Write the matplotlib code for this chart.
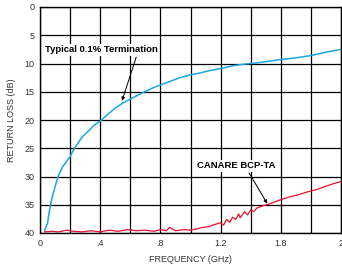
import matplotlib
matplotlib.use("Agg")
import matplotlib.pyplot as plt

plt.rcParams["font.family"] = ["Liberation Sans", "DejaVu Sans"]

# typical 0.1% termination (blue)
term_freq = [0.03, 0.04, 0.05, 0.06, 0.07, 0.08, 0.10, 0.12, 0.13, 0.15, 0.18, 0.20, 0.22, 0.25,
             0.28, 0.32, 0.36, 0.40, 0.45, 0.50, 0.55, 0.60, 0.68, 0.76, 0.84, 0.92, 1.00,
             1.06, 1.12, 1.20, 1.28, 1.36, 1.44, 1.52, 1.60, 1.70, 1.80, 1.90, 2.00]
term_loss = [39.6, 38.9, 38.3, 36.5, 35.0, 33.8, 31.8, 30.0, 29.4, 28.3, 27.2, 26.5, 25.4, 24.2,
             23.0, 22.0, 20.9, 20.2, 19.0, 17.9, 17.0, 16.3, 15.2, 14.2, 13.4, 12.6, 12.0,
             11.7, 11.3, 10.9, 10.4, 10.1, 9.9, 9.6, 9.3, 9.0, 8.6, 8.0, 7.5]

# CANARE BCP-TA (red)
canare_freq = [0.03, 0.08, 0.12, 0.18, 0.22, 0.28, 0.34, 0.40, 0.46, 0.52, 0.58, 0.64, 0.70,
               0.76, 0.80, 0.84, 0.86, 0.90, 0.96, 1.00, 1.04, 1.08, 1.12, 1.16, 1.20, 1.22,
               1.24, 1.26, 1.28, 1.30, 1.32, 1.33, 1.36, 1.38, 1.40, 1.42, 1.44, 1.48, 1.52,
               1.56, 1.60, 1.66, 1.72, 1.78, 1.84, 1.90, 1.96, 2.00]
canare_loss = [39.8, 39.7, 39.8, 39.5, 39.7, 39.8, 39.6, 39.8, 39.5, 39.7, 39.4, 39.6, 39.5,
               39.7, 39.4, 39.6, 39.0, 39.6, 39.4, 39.5, 39.3, 39.0, 38.9, 38.5, 38.2, 38.6,
               37.6, 38.1, 37.2, 37.6, 36.6, 37.3, 36.2, 36.8, 35.9, 36.2, 35.6, 35.2, 34.9,
               34.5, 34.1, 33.6, 33.2, 32.7, 32.3, 31.7, 31.2, 30.9]

x_ticks = [i * 0.2 for i in range(11)]
x_labels = ["0", "", ".4", "", ".8", "", "1.2", "", "1.8", "", "2"]
y_ticks = [0, 5, 10, 15, 20, 25, 30, 35, 40]

fig = plt.figure(figsize=(3.42, 2.66), dpi=100)
ax = fig.add_axes([40 / 342, 33 / 266, 301 / 342, 226 / 266])

ax.plot(term_freq, term_loss, color="#1aa6e0", lw=1.1)
ax.plot(canare_freq, canare_loss, color="#e5122f", lw=0.9)

ax.set_xlim(0, 2)
ax.set_ylim(40, 0)
ax.set_xticks(x_ticks)
ax.set_xticklabels(x_labels)
ax.set_yticks(y_ticks)
ax.grid(True, color="black", lw=0.9)
ax.tick_params(length=0, labelsize=6.5, colors="#333333", pad=4)
for s in ax.spines.values():
    s.set_linewidth(1.0)

ax.set_xlabel("FREQUENCY (GHz)", fontsize=6.5, color="#333333", labelpad=5)
ax.set_ylabel("RETURN LOSS (dB)", fontsize=6.5, color="#333333", labelpad=6)

box = dict(boxstyle="square,pad=0.15", fc="white", ec="none")
ax.annotate("Typical 0.1% Termination", xy=(0.545, 16.6), xytext=(0.03, 7.6),
            fontsize=6.8, fontweight="bold", bbox=box, va="center", ha="left",
            arrowprops=dict(arrowstyle="-|>", color="black", lw=0.7, mutation_scale=5,
                            relpos=(0.82, 0.0), shrinkA=1, shrinkB=0))
ax.annotate("CANARE BCP-TA", xy=(1.51, 34.8), xytext=(1.04, 28.1),
            fontsize=6.8, fontweight="bold", bbox=box, va="center", ha="left",
            arrowprops=dict(arrowstyle="-|>", color="black", lw=0.7, mutation_scale=5,
                            relpos=(0.65, 0.0), shrinkA=1, shrinkB=0))

fig.savefig("out.png", dpi=100)
